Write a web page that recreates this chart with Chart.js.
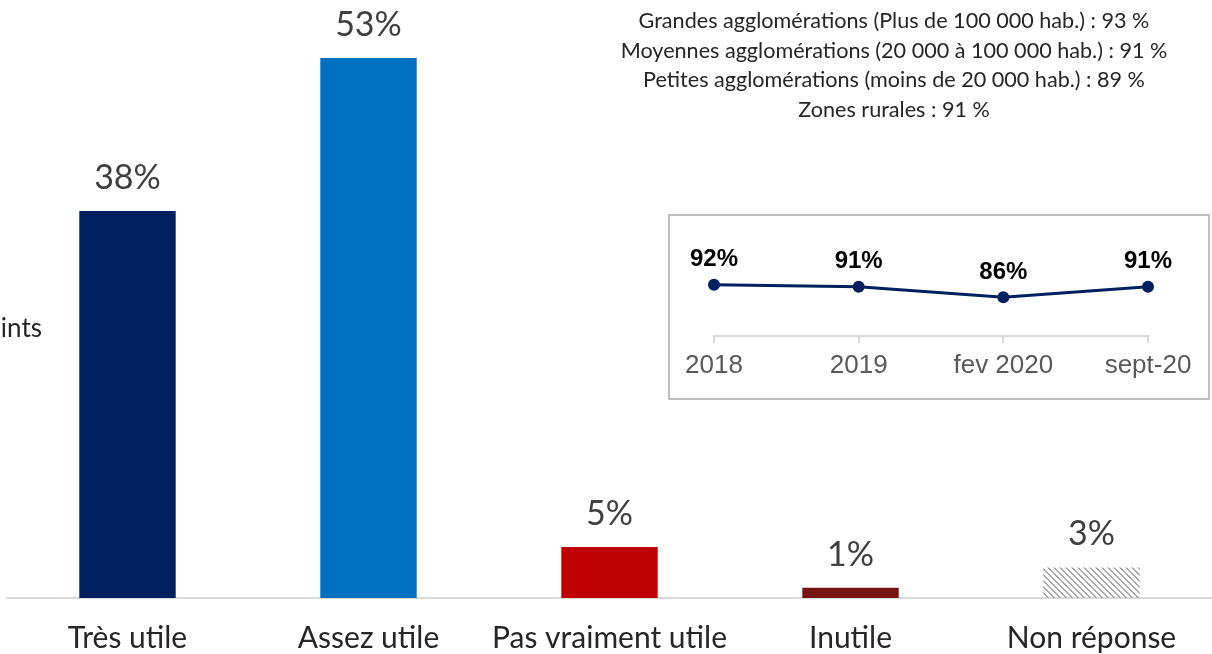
<!DOCTYPE html>
<html>
<head>
<meta charset="utf-8">
<script src="https://cdn.jsdelivr.net/npm/chart.js@4"></script>
<style>
  body { margin: 0; background: #fff; }
  #wrap { position: relative; width: 1212px; height: 654px; overflow: hidden; }
  #notes {
    position: absolute; left: 544px; top: 6px; width: 700px;
    text-align: center; font-family: Lato, sans-serif; font-size: 21.6px;
    line-height: 29.5px; color: #262626;
  }
  #side {
    position: absolute; right: 1170px; top: 311px; white-space: nowrap;
    font-family: Lato, sans-serif; font-size: 26px; color: #262626;
  }
  #inset {
    position: absolute; left: 668px; top: 214px; width: 542px; height: 186px;
    border: 2px solid #bfbfbf; box-sizing: border-box; background: #fff;
  }
</style>
</head>
<body>
<div id="wrap">
  <canvas id="main" width="1212" height="654"></canvas>
  <div id="side">points</div>
  <div id="notes"></div>
  <div id="inset"><canvas id="evo" width="538" height="182"></canvas></div>
</div>
<script>
// Données principales
var categories = ['Très utile', 'Assez utile', 'Pas vraiment utile', 'Inutile', 'Non réponse'];
var valeurs = [38, 53, 5, 1, 3];

// Évolution (encart)
var annees = ['2018', '2019', 'fev 2020', 'sept-20'];
var evolution = [92, 91, 86, 91];

// Détail par taille d'agglomération
var notes = [
  'Grandes agglomérations (Plus de 100 000 hab.) : 93  %',
  'Moyennes agglomérations (20 000 à 100 000 hab.) : 91 %',
  'Petites agglomérations (moins de 20 000 hab.) : 89 %',
  'Zones rurales : 91 %'
];

document.getElementById('notes').innerHTML = notes.map(function (t) { return '<div>' + t + '</div>'; }).join('');

// motif hachuré pour "Non réponse"
function hachures() {
  var c = document.createElement('canvas');
  c.width = 6; c.height = 6;
  var g = c.getContext('2d');
  g.fillStyle = '#a6a6a6';
  for (var i = 0; i < 6; i++) {
    g.fillRect(i, i, 1, 1);
    g.fillRect((i + 1) % 6, i, 1, 1);
  }
  return g.createPattern(c, 'repeat');
}

var couleurs = ['#002060', '#0070c0', '#c00000', '#761414', hachures()];
var police = 'Lato, sans-serif';

// étiquettes au-dessus des barres
var etiquettesBarres = {
  id: 'etiquettesBarres',
  afterDatasetsDraw: function (chart) {
    var ctx = chart.ctx;
    var meta = chart.getDatasetMeta(0);
    ctx.save();
    ctx.font = '34px ' + police;
    ctx.fillStyle = '#404040';
    ctx.textAlign = 'center';
    ctx.textBaseline = 'middle';
    meta.data.forEach(function (bar, i) {
      ctx.fillText(valeurs[i] + '%', bar.x, bar.y - 33);
    });
    ctx.restore();
  }
};

new Chart(document.getElementById('main').getContext('2d'), {
  type: 'bar',
  data: {
    labels: categories,
    datasets: [{
      data: valeurs,
      backgroundColor: couleurs,
      barPercentage: 0.4,
      categoryPercentage: 1
    }]
  },
  options: {
    responsive: false,
    animation: false,
    layout: { padding: { left: 7, right: 0, top: 0, bottom: 0 } },
    plugins: { legend: { display: false }, tooltip: { enabled: false } },
    scales: {
      x: {
        grid: { display: false, drawTicks: false },
        border: { display: true, color: '#d9d9d9', width: 2 },
        ticks: { color: '#262626', font: { family: police, size: 30 }, padding: 22, maxRotation: 0, autoSkip: false },
        afterFit: function (s) { s.height = 56; }
      },
      y: { display: false, min: 0, max: 58.7 }
    }
  },
  plugins: [etiquettesBarres]
});

var etiquettesPoints = {
  id: 'etiquettesPoints',
  afterDatasetsDraw: function (chart) {
    var ctx = chart.ctx;
    var meta = chart.getDatasetMeta(0);
    ctx.save();
    ctx.font = 'bold 24px "Liberation Sans", Arial, sans-serif';
    ctx.fillStyle = '#000';
    ctx.textAlign = 'center';
    ctx.textBaseline = 'middle';
    meta.data.forEach(function (pt, i) {
      ctx.fillText(evolution[i] + '%', pt.x, pt.y - 25);
    });
    ctx.restore();
  }
};

new Chart(document.getElementById('evo').getContext('2d'), {
  type: 'line',
  data: {
    labels: annees,
    datasets: [{
      data: evolution,
      borderColor: '#002060',
      borderWidth: 3,
      pointRadius: 6,
      pointBackgroundColor: '#002060',
      pointBorderWidth: 0,
      tension: 0
    }]
  },
  options: {
    responsive: false,
    animation: false,
    layout: { padding: { left: 44, right: 60, top: 0, bottom: 0 } },
    plugins: { legend: { display: false }, tooltip: { enabled: false } },
    scales: {
      x: {
        offset: false,
        grid: { display: true, drawOnChartArea: false, drawTicks: true, tickLength: 7, color: '#d9d9d9', lineWidth: 2 },
        border: { display: true, color: '#d9d9d9', width: 2 },
        ticks: { color: '#595959', font: { family: '"Liberation Sans", Arial, sans-serif', size: 26 }, padding: 7, maxRotation: 0, autoSkip: false },
        afterFit: function (s) { s.height = 62; }
      },
      y: { display: false, min: 67.5, max: 122 }
    }
  },
  plugins: [etiquettesPoints]
});
</script>
</body>
</html>
